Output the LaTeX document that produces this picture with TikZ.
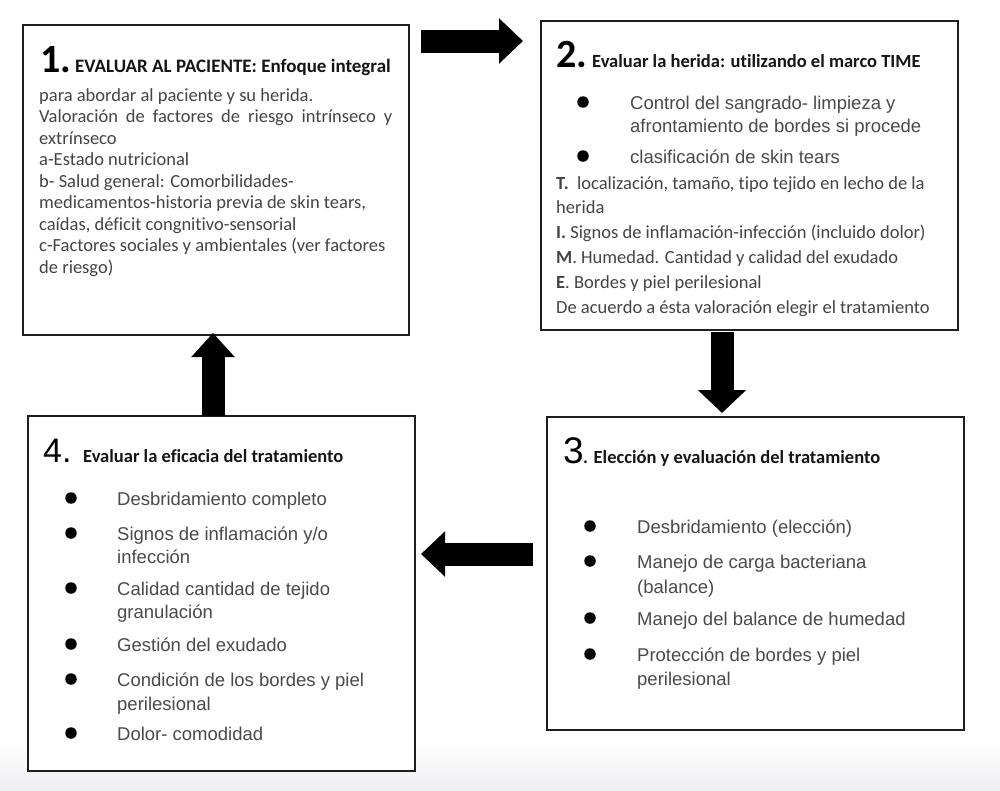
\documentclass[tikz,border=0pt]{standalone}
\usepackage{fontspec}
\usetikzlibrary{arrows.meta}
\newfontfamily\calfont[Ligatures=CommonOff]{Carlito}
\newfontfamily\arifont{Liberation Sans}
\definecolor{bodytxt}{HTML}{444444}
\definecolor{bultxt}{HTML}{4A4A4A}
\definecolor{headtxt}{HTML}{151515}
\definecolor{bggray}{HTML}{EEEDF0}
\tikzset{
  box/.style={draw=black!88, line width=1.8pt, inner sep=0pt, fill=white},
  bodyline/.style={anchor=base west, inner sep=0pt, text=bodytxt, font=\calfont\fontsize{18.5}{22}\selectfont},
  headline/.style={anchor=base west, inner sep=0pt, text=headtxt, font=\calfont\bfseries\fontsize{18.5}{22}\selectfont},
  bigcal/.style={anchor=base west, inner sep=0pt, text=black, font=\calfont\bfseries\fontsize{40}{40}\selectfont},
  bigari/.style={anchor=base west, inner sep=0pt, text=black, font=\arifont\fontsize{36}{36}\selectfont},
  bulline/.style={anchor=base west, inner sep=0pt, text=bultxt, font=\arifont\fontsize{18.5}{22}\selectfont},
  dot/.style={circle, fill=black, inner sep=0pt, minimum size=11.5pt},
  bigarrow/.style={line width=23pt, black, -{Triangle[width=44pt, length=24pt]}}
}
\begin{document}
\begin{tikzpicture}[x=1pt, y=-1pt]
\useasboundingbox (0,0) rectangle (1000,790);
\fill[white] (0,0) rectangle (1000,790);
\shade[top color=white, bottom color=bggray] (0,742) rectangle (1000,790);

% boxes
\node[box, minimum width=386pt, minimum height=310pt] (b1) at (216,180) {};
\node[box, minimum width=417pt, minimum height=309pt] (b2) at (749.5,175.5) {};
\node[box, minimum width=417pt, minimum height=313pt] (b3) at (755.5,573.5) {};
\node[box, minimum width=387pt, minimum height=355pt] (b4) at (221.5,593.5) {};

% arrows
\coordinate (a12s) at (421,41);  \coordinate (a12e) at (523,41);
\coordinate (a23s) at (722,332); \coordinate (a23e) at (722,413);
\coordinate (a34s) at (533,554); \coordinate (a34e) at (421,554);
\coordinate (a41s) at (213,416); \coordinate (a41e) at (213,333);
\draw[bigarrow] (a12s) -- (a12e);
\draw[bigarrow, -{Triangle[width=47pt, length=23pt]}] (a23s) -- (a23e);
\draw[bigarrow] (a34s) -- (a34e);
\draw[bigarrow, -{Triangle[width=42pt, length=24pt]}] (a41s) -- (a41e);

% box 1
\node[bigcal] (n1) at (40,72) {1.};
\node[headline, font=\calfont\bfseries\fontsize{19}{22}\selectfont] (h1) at (75,72) {EVALUAR AL PACIENTE: Enfoque integral};
\node[bodyline] (t1a) at (39,101) {para abordar al paciente y su herida.};
\node[bodyline] (t1b) at (39,122.5) {\makebox[353pt][s]{Valoración de factores de riesgo intrínseco y}};
\node[bodyline] (t1c) at (39,144) {extrínseco};
\node[bodyline] (t1d) at (39,165.5) {a-Estado nutricional};
\node[bodyline] (t1e) at (39,187) {b- Salud general: Comorbilidades-};
\node[bodyline] (t1f) at (39,208.5) {medicamentos-historia previa de skin tears,};
\node[bodyline] (t1g) at (39,230) {caídas, déficit congnitivo-sensorial};
\node[bodyline] (t1h) at (39,251.5) {c-Factores sociales y ambientales (ver factores};
\node[bodyline] (t1i) at (39,273) {de riesgo)};

% box 2
\node[bigcal] (n2) at (556,67) {2.};
\node[headline] (h2) at (592,67) {Evaluar la herida: utilizando el marco TIME};
\node[dot] (d2a) at (583,102) {};
\node[bulline] (t2a) at (630,109) {Control del sangrado- limpieza y};
\node[bulline] (t2b) at (630,132) {afrontamiento de bordes si procede};
\node[dot] (d2b) at (583,156) {};
\node[bulline] (t2c) at (630,163) {clasificación de skin tears};
\node[bodyline] (t2d) at (556,189) {\textbf{T.}\ \ localización, tamaño, tipo tejido en lecho de la};
\node[bodyline] (t2e) at (556,213.5) {herida};
\node[bodyline] (t2f) at (556,238) {\textbf{I.} Signos de inflamación-infección (incluido dolor)};
\node[bodyline] (t2g) at (556,263) {\textbf{M}. Humedad. Cantidad y calidad del exudado};
\node[bodyline] (t2h) at (556,288) {\textbf{E}. Bordes y piel perilesional};
\node[bodyline] (t2i) at (556,313) {De acuerdo a ésta valoración elegir el tratamiento};

% box 3
\node[bigari, font=\arifont\fontsize{37}{37}\selectfont] (n3) at (563,463) {3};
\node[headline] (h3) at (583,463) {. Elección y evaluación del tratamiento};
\node[dot] (d3a) at (590,526) {};
\node[bulline] (t3a) at (637,533) {Desbridamiento (elección)};
\node[dot] (d3b) at (590,561) {};
\node[bulline] (t3b) at (637,568) {Manejo de carga bacteriana};
\node[bulline] (t3c) at (637,593) {(balance)};
\node[dot] (d3c) at (590,618) {};
\node[bulline] (t3d) at (637,625) {Manejo del balance de humedad};
\node[dot] (d3d) at (590,654) {};
\node[bulline] (t3e) at (637,661) {Protección de bordes y piel};
\node[bulline] (t3f) at (637,685) {perilesional};

% box 4
\node[bigari, font=\arifont\fontsize{34}{34}\selectfont] (n4) at (43,462) {4.};
\node[headline] (h4) at (83,462) {Evaluar la eficacia del tratamiento};
\node[dot] (d4a) at (71,498) {};
\node[bulline] (t4a) at (117,505) {Desbridamiento completo};
\node[dot] (d4b) at (71,533) {};
\node[bulline] (t4b) at (117,540) {Signos de inflamación y/o};
\node[bulline] (t4c) at (117,563) {infección};
\node[dot] (d4c) at (71,588) {};
\node[bulline] (t4d) at (117,595) {Calidad cantidad de tejido};
\node[bulline] (t4e) at (117,618) {granulación};
\node[dot] (d4d) at (71,644) {};
\node[bulline] (t4f) at (117,651) {Gestión del exudado};
\node[dot] (d4e) at (71,679) {};
\node[bulline] (t4g) at (117,686) {Condición de los bordes y piel};
\node[bulline] (t4h) at (117,710) {perilesional};
\node[dot] (d4f) at (71,733) {};
\node[bulline] (t4i) at (117,740) {Dolor- comodidad};
\end{tikzpicture}
\end{document}
